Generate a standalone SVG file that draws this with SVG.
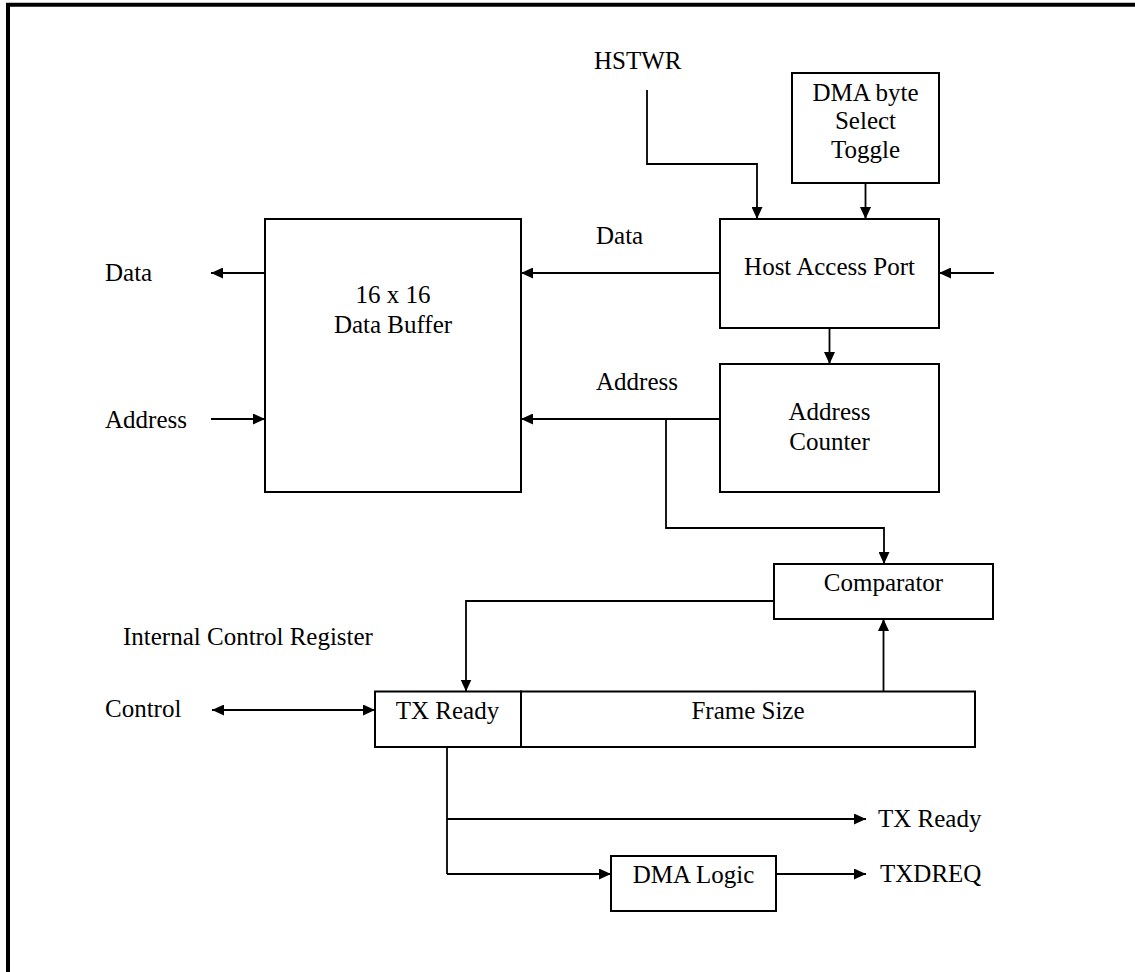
<svg xmlns="http://www.w3.org/2000/svg" width="1135" height="972" viewBox="0 0 1135 972">
<style>
.box{fill:#fff;stroke:#000;stroke-width:2}
.ln{fill:none;stroke:#000;stroke-width:1.8}
.arr{marker-end:url(#ah)}
text{font-family:"Liberation Serif","Times New Roman",serif;font-size:25px;fill:#000}
.c{text-anchor:middle}
</style>
<defs>
<marker id="ah" markerUnits="userSpaceOnUse" markerWidth="13" markerHeight="11" refX="12" refY="5.5" orient="auto-start-reverse">
<path d="M0,0 L12,5.5 L0,11 z" fill="#000"/>
</marker>
</defs>
<rect width="1135" height="972" fill="#fff"/>
<path d="M8,972 V4.7 H1135" fill="none" stroke="#000" stroke-width="4"/>

<g id="dma-toggle">
<rect class="box" x="792" y="73" width="147" height="110"/>
<text class="c" x="865.5" y="100.5">DMA byte</text>
<text class="c" x="865.5" y="129">Select</text>
<text class="c" x="865.5" y="158">Toggle</text>
</g>
<g id="host-access-port">
<rect class="box" x="720" y="219" width="219" height="109"/>
<text class="c" x="829.5" y="275">Host Access Port</text>
</g>
<g id="data-buffer">
<rect class="box" x="265" y="219" width="256" height="273"/>
<text class="c" x="393" y="303">16 x 16</text>
<text class="c" x="393" y="333">Data Buffer</text>
</g>
<g id="address-counter">
<rect class="box" x="720" y="364" width="219" height="128"/>
<text class="c" x="829.5" y="420">Address</text>
<text class="c" x="829.5" y="449.5">Counter</text>
</g>
<g id="comparator">
<rect class="box" x="774" y="564" width="219" height="55"/>
<text class="c" x="883.5" y="590.5">Comparator</text>
</g>
<g id="tx-ready-reg">
<rect class="box" x="375" y="691.5" width="146" height="55.5"/>
<text class="c" x="447.5" y="719">TX Ready</text>
</g>
<g id="frame-size">
<rect class="box" x="521" y="691.5" width="454" height="55.5"/>
<text class="c" x="748" y="718.5">Frame Size</text>
</g>
<g id="dma-logic">
<rect class="box" x="611" y="856" width="165" height="55"/>
<text class="c" x="693.5" y="883">DMA Logic</text>
</g>

<g id="labels">
<text x="594" y="69">HSTWR</text>
<text x="596" y="244">Data</text>
<text x="596" y="390">Address</text>
<text x="105" y="281">Data</text>
<text x="105" y="427.5">Address</text>
<text x="123" y="645">Internal Control Register</text>
<text x="105" y="717">Control</text>
<text x="878" y="827">TX Ready</text>
<text x="880" y="882">TXDREQ</text>
</g>

<g id="connectors">
<path class="ln arr" d="M647,90 V164 H757 V219"/>
<path class="ln arr" d="M865.5,183 V219"/>
<path class="ln arr" d="M994,273 H939"/>
<path class="ln arr" d="M720,273 H521"/>
<path class="ln arr" d="M265,273 H211"/>
<path class="ln arr" d="M829.5,328 V364"/>
<path class="ln arr" d="M720,419 H521"/>
<path class="ln arr" d="M211,419 H265"/>
<path class="ln arr" d="M666,419 V528 H884 V564"/>
<path class="ln arr" d="M774,601 H466 V691.5"/>
<path class="ln arr" d="M883.5,691.5 V619"/>
<path class="ln arr" d="M212,710 H375" marker-start="url(#ah)"/>
<path class="ln" d="M447,747 V874"/>
<path class="ln arr" d="M447,819 H866"/>
<path class="ln arr" d="M447,874 H611"/>
<path class="ln arr" d="M776,874 H866"/>
</g>
</svg>
